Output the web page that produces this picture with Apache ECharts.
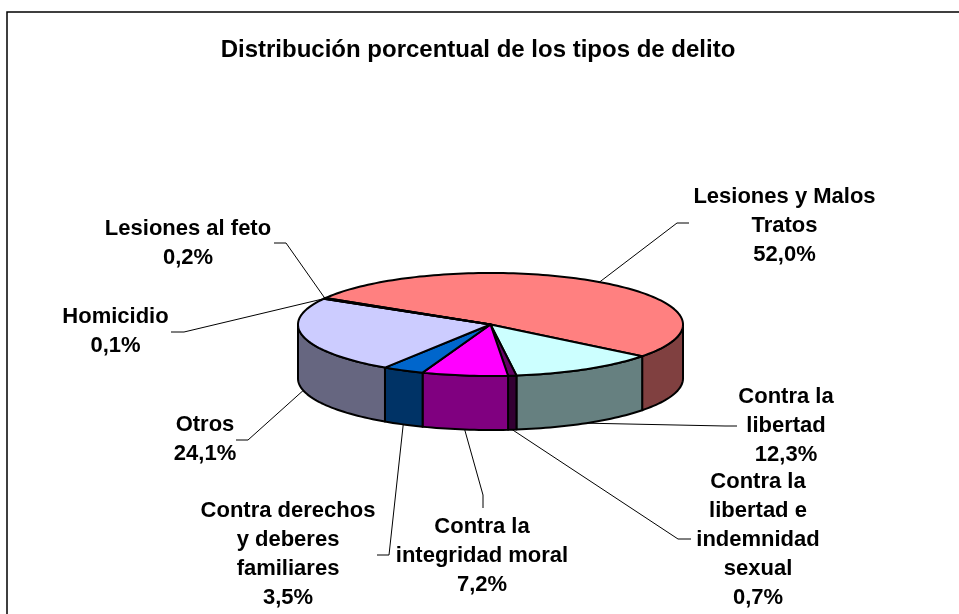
<!DOCTYPE html>
<html>
<head>
<meta charset="utf-8">
<style>html,body{margin:0;padding:0;background:#fff}#c{width:959px;height:614px}</style>
<script src="https://cdn.jsdelivr.net/npm/echarts@6/dist/echarts.min.js"></script>
</head>
<body>
<div id="c"></div>
<script>
const chartTitle = 'Distribución porcentual de los tipos de delito';
const categories = ['Lesiones y Malos\nTratos', 'Contra la\nlibertad', 'Contra la\nlibertad e\nindemnidad\nsexual', 'Contra la\nintegridad moral', 'Contra derechos\ny deberes\nfamiliares', 'Otros', 'Homicidio', 'Lesiones al feto'];
const values = [52.0, 12.3, 0.7, 7.2, 3.5, 24.1, 0.1, 0.2];
const topColors = ['#FF8080', '#CCFFFF', '#660066', '#FF00FF', '#0066CC', '#CCCCFF', '#9999FF', '#993366'];
const sideColors = ['#804040', '#668080', '#330033', '#800080', '#003366', '#666680', '#4D4D80', '#4D1A33'];

// Layout of the tilted pie
const CX = 490.5, CY = 324.5, RX = 192.5, RY = 51.5, DEPTH = 54, START = 301;
const FONT = 'bold 22px "Liberation Sans", Arial, sans-serif';
const LINE_H = 29;
// label centre x, first line centre y, leader elbow and leader end
const labelLayout = [
  {x: 784.5, y: 197, elbow: [677, 223], end: [689, 223]},
  {x: 786, y: 397, elbow: [725, 426], end: [737, 426]},
  {x: 758, y: 482, elbow: [678, 539], end: [691, 539]},
  {x: 482, y: 527, elbow: [483, 495], end: [483, 508]},
  {x: 288, y: 511, elbow: [389, 555], end: [377, 555]},
  {x: 205, y: 425, elbow: [248, 440], end: [236, 440]},
  {x: 115.5, y: 317, elbow: [184, 332], end: [171, 332]},
  {x: 188, y: 229, elbow: [286, 243], end: [274, 243]}
];

const total = values.reduce((a, b) => a + b, 0);
const startAngles = [];
values.reduce((acc, v, i) => { startAngles[i] = acc; return acc + v / total * 360; }, START);

function pt(deg, dy) {
  const r = deg * Math.PI / 180;
  return [CX + RX * Math.sin(r), CY - RY * Math.cos(r) + (dy || 0)];
}
function arc(a0, a1, dy) {
  const out = [], n = Math.max(2, Math.ceil(Math.abs(a1 - a0) / 1.5));
  for (let k = 0; k <= n; k++) out.push(pt(a0 + (a1 - a0) * k / n, dy));
  return out;
}
const pctText = v => v.toFixed(1).replace('.', ',') + '%';

function renderSlice(params, api) {
  const i = params.dataIndex;
  const a0 = startAngles[i], a1 = a0 + api.value(0) / total * 360;
  const children = [];
  const w0 = Math.max(a0, 450), w1 = Math.min(a1, 630);
  if (w1 > w0) {
    children.push({
      type: 'polygon',
      shape: {points: arc(w0, w1, 0).concat(arc(w1, w0, DEPTH))},
      style: {fill: sideColors[i], stroke: '#000', lineWidth: 2, lineJoin: 'round'}
    });
  }
  children.push({
    type: 'polygon',
    shape: {points: [[CX, CY]].concat(arc(a0, a1, 0))},
    style: {fill: topColors[i], stroke: '#000', lineWidth: 2, lineJoin: 'round'}
  });
  return {type: 'group', children};
}

function renderLabel(params, api) {
  const i = params.dataIndex;
  const v = api.value(0), L = labelLayout[i];
  const mid = startAngles[i] + v / total * 180;
  const norm = ((mid % 360) + 360) % 360;
  const front = norm > 90 && norm < 270;
  const anchor = pt(mid, front ? DEPTH : 0);
  return {
    type: 'group',
    children: [
      {type: 'polyline', shape: {points: [anchor, L.elbow, L.end]}, style: {fill: 'none', stroke: '#000', lineWidth: 1}},
      {type: 'text', style: {
        text: categories[i] + '\n' + pctText(v),
        x: L.x, y: L.y - LINE_H / 2,
        align: 'center', verticalAlign: 'top',
        font: FONT, lineHeight: LINE_H, fill: '#000'
      }}
    ]
  };
}

const seriesData = values.map((v, i) => ({value: v, name: categories[i]}));
const chart = echarts.init(document.getElementById('c'), null, {renderer: 'canvas'});
chart.setOption({
  backgroundColor: '#fff',
  animation: false,
  title: {
    text: chartTitle, left: 473, top: 45, textAlign: 'center', textVerticalAlign: 'middle',
    textStyle: {fontFamily: '"Liberation Sans", Arial, sans-serif', fontWeight: 'bold', fontSize: 24, color: '#000'}
  },
  graphic: [{
    type: 'polyline', silent: true,
    shape: {points: [[7, 614], [7, 12], [959, 12]]},
    style: {fill: 'none', stroke: '#000', lineWidth: 1.5}
  }],
  series: [
    {type: 'custom', coordinateSystem: 'none', silent: true, data: seriesData, renderItem: renderLabel, z: 1},
    {type: 'custom', coordinateSystem: 'none', silent: true, data: seriesData, renderItem: renderSlice, z: 2}
  ]
});
</script>
</body>
</html>
